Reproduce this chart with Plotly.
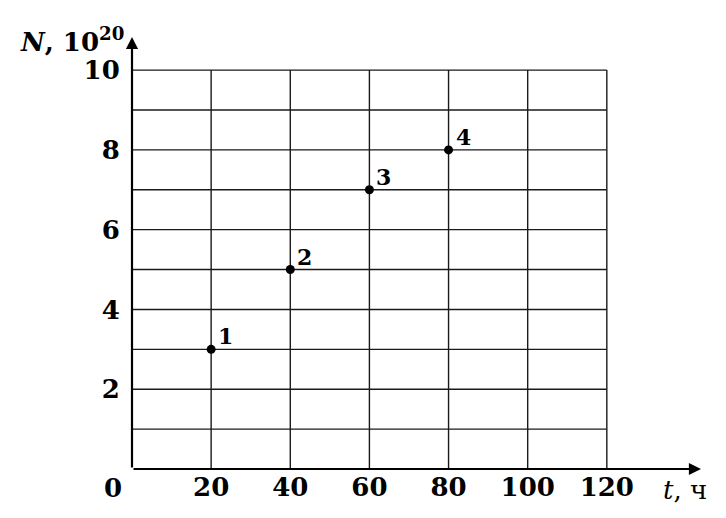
import plotly.graph_objects as go

# Data
t_values = [20, 40, 60, 80]
N_values = [3, 5, 7, 8]
point_labels = ["1", "2", "3", "4"]

x_ticks = [20, 40, 60, 80, 100, 120]
x_tick_labels = ["20", "40", "60", "80", "100", "120"]
y_ticks = [2, 4, 6, 8, 10]
y_tick_labels = ["2", "4", "6", "8", "10"]
x_grid = [20, 40, 60, 80, 100, 120]
y_grid = [1, 2, 3, 4, 5, 6, 7, 8, 9, 10]
x_max = 120
y_max = 10
x_arrow_end = 143.8
y_arrow_end = 10.83

FONT = "DejaVu Serif"
FS = 26

fig = go.Figure()

# grid lines (limited to the 0..120 x 0..10 box)
gx, gy = [], []
for xv in x_grid:
    gx += [xv, xv, None]
    gy += [0, y_max, None]
for yv in y_grid:
    gx += [0, x_max, None]
    gy += [yv, yv, None]
fig.add_trace(go.Scatter(x=gx, y=gy, mode="lines",
                         line=dict(color="#1a1a1a", width=1.4),
                         hoverinfo="skip", showlegend=False))

# points
fig.add_trace(go.Scatter(x=t_values, y=N_values, mode="markers",
                         marker=dict(color="black", size=9),
                         showlegend=False))

annotations = []
for xv, yv, lab in zip(t_values, N_values, point_labels):
    annotations.append(dict(x=xv, y=yv, text=f"<b>{lab}</b>", showarrow=False,
                            xanchor="left", yanchor="bottom", xshift=5, yshift=-2,
                            font=dict(family=FONT, size=22, color="black")))

# axes with arrows
annotations.append(dict(x=x_arrow_end, y=0, ax=0, ay=0, xref="x", yref="y",
                        axref="x", ayref="y", showarrow=True, arrowhead=2,
                        arrowsize=1.1, arrowwidth=2.2, arrowcolor="black", text=""))
annotations.append(dict(x=0, y=y_arrow_end, ax=0, ay=0, xref="x", yref="y",
                        axref="x", ayref="y", showarrow=True, arrowhead=2,
                        arrowsize=1.1, arrowwidth=2.2, arrowcolor="black", text=""))

# origin label
annotations.append(dict(x=0, y=0, text="<b>0</b>", showarrow=False,
                        xanchor="center", yanchor="middle", xshift=-19, yshift=-19,
                        font=dict(family=FONT, size=FS, color="black")))
# axis titles
annotations.append(dict(x=0, y=y_arrow_end, text="<b><i>N</i>, 10<sup>20</sup></b>",
                        showarrow=False, xanchor="right", yanchor="middle",
                        xshift=-6, yshift=-3,
                        font=dict(family=FONT, size=FS, color="black")))
annotations.append(dict(x=x_arrow_end, y=0, text="<i>t</i>, ч",
                        showarrow=False, xanchor="right", yanchor="middle",
                        xshift=8, yshift=-21,
                        font=dict(family=FONT, size=26, color="black")))

fig.update_layout(
    width=726, height=518,
    margin=dict(l=124, r=33, t=29, b=57),
    paper_bgcolor="white", plot_bgcolor="white",
    annotations=annotations,
    xaxis=dict(range=[0, x_arrow_end], showgrid=False, zeroline=False,
               showline=False, tickvals=x_ticks, automargin=False,
               ticktext=[f"<b>{s}</b>" for s in x_tick_labels],
               ticks="", ticklen=0,
               tickfont=dict(family=FONT, size=FS, color="black")),
    yaxis=dict(range=[0, y_arrow_end], showgrid=False, zeroline=False,
               showline=False, tickvals=y_ticks, automargin=False,
               ticktext=[f"<b>{s}</b>" for s in y_tick_labels],
               ticks="outside", ticklen=6, tickcolor="rgba(0,0,0,0)",
               tickfont=dict(family=FONT, size=FS, color="black")),
)

fig.write_html("out.html")
